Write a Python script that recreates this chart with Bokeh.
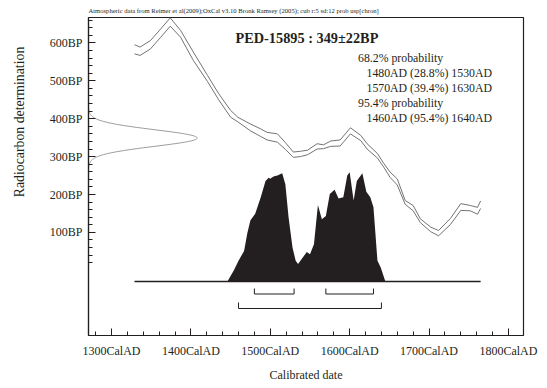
import numpy as np
from bokeh.plotting import figure
from bokeh.layouts import row
from bokeh.models import Range1d, FixedTicker, PrintfTickFormatter, Label, Title
from bokeh.core.properties import value
from bokeh.embed import file_html
from bokeh.resources import INLINE

# ---------------- data ----------------
sample_name = "PED-15895"
bp_mean = 349
bp_sd = 22

# calibration curve (IntCal09 segment): calendar year, mean BP, 1-sigma
cal_year = [1329, 1336, 1349, 1362, 1374, 1387, 1403, 1421, 1435, 1450,
            1459, 1475, 1488, 1496, 1509, 1519, 1529, 1538, 1547, 1559,
            1567, 1576, 1588, 1601, 1614, 1622, 1635, 1643, 1651, 1660,
            1670, 1680, 1689, 1702, 1712, 1727, 1740, 1752, 1761, 1765]
cal_bp = [583, 578, 595, 626, 655, 624, 565, 506, 458, 413,
          398, 377, 363, 354, 349, 328, 305, 307, 311, 327,
          326, 334, 336, 368, 349, 327, 302, 277, 252, 233,
          179, 164, 131, 108, 98, 129, 167, 164, 157, 173]
cal_sd = [12, 11, 11, 11, 11, 9, 11, 8, 8, 9,
          6, 9, 10, 10, 11, 9, 7, 7, 6, 7,
          5, 7, 8, 8, 7, 7, 6, 5, 7, 8,
          5, 7, 5, 6, 7, 8, 9, 7, 9, 10]

# calibrated (posterior) distribution, relative probability
post_year = [1446, 1454, 1460, 1467, 1471, 1475, 1481, 1488, 1494, 1498,
             1500, 1504, 1509, 1515, 1519, 1523, 1528, 1532, 1535, 1540,
             1546, 1550, 1555, 1560, 1565, 1570, 1575, 1581, 1586, 1592,
             1597, 1600, 1605, 1609, 1616, 1621, 1626, 1630, 1635, 1639,
             1645]
post_prob = [0.00, 0.10, 0.19, 0.28, 0.44, 0.56, 0.62, 0.77, 0.92, 0.95,
             0.94, 0.96, 0.97, 0.99, 0.89, 0.59, 0.31, 0.19, 0.16, 0.21,
             0.27, 0.25, 0.34, 0.70, 0.57, 0.60, 0.80, 0.84, 0.76, 0.77,
             0.97, 1.00, 0.74, 0.92, 0.99, 0.82, 0.77, 0.68, 0.19, 0.13,
             0.00]

# probability ranges
range68_from = [1480, 1570]
range68_to = [1530, 1630]
range68_pct = [28.8, 39.4]
range95_from = [1460]
range95_to = [1640]
range95_pct = [95.4]

x_major = [1300, 1400, 1500, 1600, 1700, 1800]
x_minor = list(range(1280, 1821, 20))
y_major = [100, 200, 300, 400, 500, 600]
y_minor = list(range(20, 661, 20))

header = ("Atmospheric data from Reimer et al(2009);OxCal v3.10 Bronk Ramsey (2005); "
          "cub r:5 sd:12 prob usp[chron]")
x_title = "Calibrated date"
y_title = "Radiocarbon determination"

# ---------------- layout constants ----------------
W, H = 547, 388
LW = 40                     # width of the y-title strip
X0, X1 = 1271, 1819
Y0, Y1 = -172, 667
P0, P1 = -0.494, 2.415
FL, FT, FW, FH = 88, 17, 435, 318
FONT = "Liberation Serif"
INK = "#231f20"
CURVE = "#737373"


def px2x(px):
    return X0 + (px - FL) / FW * (X1 - X0)


def py2y(py):
    return Y1 - (py - FT) / FH * (Y1 - Y0)


def py2p(py):
    return P1 - (py - FT) / FH * (P1 - P0)


# ---- strip holding the vertical axis title ----
lab = figure(width=LW, height=H, output_backend="svg", toolbar_location=None,
             x_range=Range1d(0, LW), y_range=Range1d(0, H),
             x_axis_type=None, y_axis_type=None,
             min_border_left=0, min_border_right=0, min_border_top=0, min_border_bottom=0)
lab.grid.visible = False
lab.outline_line_color = None
lab.background_fill_color = "white"
lab.border_fill_color = "white"
lab.text(x=[18.5], y=[H - 127.5], text=[y_title], angle=np.pi / 2,
         text_align="center", text_baseline="middle", text_font=value(FONT),
         text_font_size="13.8px", text_color=INK)

# ---- main chart ----
p = figure(width=W - LW, height=H, output_backend="svg", toolbar_location=None,
           x_range=Range1d(X0, X1), y_range=Range1d(Y0, Y1),
           min_border_left=FL - LW, min_border_right=W - FL - FW,
           min_border_top=FT, min_border_bottom=H - FT - FH)
p.extra_y_ranges = {"prob": Range1d(P0, P1)}
p.grid.visible = False
p.outline_line_color = INK
p.outline_line_width = 1.2
p.background_fill_color = "white"
p.border_fill_color = "white"

p.add_layout(Title(text=header, align="left", offset=0, standoff=5,
                   text_font=FONT, text_font_size="6.6px", text_font_style="normal",
                   text_color=INK, vertical_align="middle"), "above")

for ax, maj, mnr, fmt in ((p.xaxis[0], x_major, x_minor, "%dCalAD"),
                          (p.yaxis[0], y_major, y_minor, "%dBP")):
    ax.ticker = FixedTicker(ticks=maj, minor_ticks=mnr)
    ax.formatter = PrintfTickFormatter(format=fmt)
    ax.axis_line_color = INK
    ax.axis_line_width = 1.2
    ax.major_tick_in = 7
    ax.major_tick_out = 0
    ax.minor_tick_in = 4
    ax.minor_tick_out = 0
    ax.major_tick_line_color = INK
    ax.minor_tick_line_color = INK
    ax.major_label_text_font = FONT
    ax.major_label_text_font_size = "12px"
    ax.major_label_text_color = INK

xa = p.xaxis[0]
xa.major_label_standoff = 8
xa.axis_label = x_title
xa.axis_label_text_font = FONT
xa.axis_label_text_font_size = "12px"
xa.axis_label_text_font_style = "normal"
xa.axis_label_text_color = INK
xa.axis_label_standoff = 7

ya = p.yaxis[0]
ya.major_label_standoff = 6

# calibration curve band edges
cy = np.array(cal_year, dtype=float)
cb = np.array(cal_bp, dtype=float)
cs = np.array(cal_sd, dtype=float)
p.line(cy, cb + cs, line_color=CURVE, line_width=1)
p.line(cy, cb - cs, line_color=CURVE, line_width=1)

# radiocarbon measurement distribution on the y axis
bp_grid = np.linspace(bp_mean - 3.6 * bp_sd, bp_mean + 3.6 * bp_sd, 161)
dens = np.exp(-0.5 * ((bp_grid - bp_mean) / bp_sd) ** 2)
p.line(X0 + 137 * dens, bp_grid, line_color="#9a9a9a", line_width=1)

# calibrated distribution
p.varea(x=post_year, y1=[0] * len(post_year), y2=post_prob,
        y_range_name="prob", fill_color=INK)
p.line([cal_year[0], cal_year[-1]], [0, 0], y_range_name="prob",
       line_color=INK, line_width=1.6)

# range brackets
for starts, ends, ly, ty in ((range68_from, range68_to, 293.5, 288),
                             (range95_from, range95_to, 308, 302)):
    yl, yt = py2p(ly), py2p(ty)
    xs0, ys0, xs1, ys1 = [], [], [], []
    for a, b in zip(starts, ends):
        xs0 += [a, a, b]
        ys0 += [yl, yl, yl]
        xs1 += [b, a, b]
        ys1 += [yl, yt, yt]
    p.segment(x0=xs0, y0=ys0, x1=xs1, y1=ys1, y_range_name="prob",
              line_color=INK, line_width=1)

# texts
p.add_layout(Label(x=px2x(235), y=py2y(37), text=f"{sample_name} : {bp_mean}\u00b1{bp_sd}BP",
                   text_font=FONT, text_font_size="14.3px", text_font_style="bold",
                   text_baseline="middle", text_align="left", text_color=INK))

lines = [("68.2% probability", 357.5)]
for a, pc, b in zip(range68_from, range68_pct, range68_to):
    lines.append((f"{a}AD ({pc}%) {b}AD", 366))
lines.append(("95.4% probability", 357.5))
for a, pc, b in zip(range95_from, range95_pct, range95_to):
    lines.append((f"{a}AD ({pc}%) {b}AD", 366))
for i, (t, lx) in enumerate(lines):
    p.add_layout(Label(x=px2x(lx), y=py2y(57 + 15.1 * i), text=t, text_font=FONT,
                       text_font_size="11.8px", text_baseline="middle",
                       text_align="left", text_color=INK))

layout = row(lab, p, spacing=0)
open("out.html", "w").write(file_html(layout, INLINE))
